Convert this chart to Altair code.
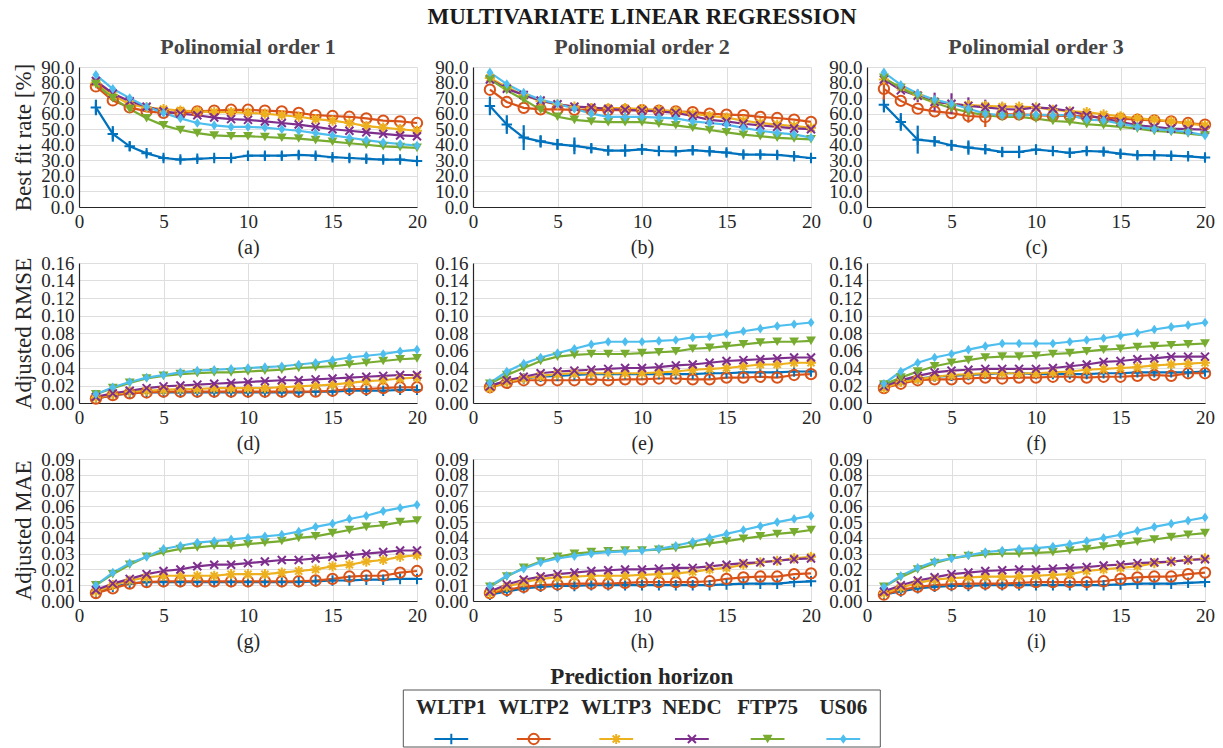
import altair as alt
import pandas as pd

FONT = "Liberation Serif"

SERIES = ["WLTP1", "WLTP2", "WLTP3", "NEDC", "FTP75", "US06"]
COLORS = ["#0072BD", "#D95319", "#EDB120", "#7E2F8E", "#77AC30", "#4DBEEE"]
# marker per driving cycle: plus, circle, asterisk, x, down-triangle, diamond
SHAPES = [
    "M-1,0L1,0M0,-1L0,1",
    "circle",
    "M-1,0L1,0M0,-1L0,1M-0.7,-0.7L0.7,0.7M-0.7,0.7L0.7,-0.7",
    "M-0.8,-0.8L0.8,0.8M-0.8,0.8L0.8,-0.8",
    "triangle-down",
    "M0,-1L0.7,0L0,1L-0.7,0Z",
]
SIZES = [110, 95, 110, 64, 120, 160]
FILLED = ["FTP75", "US06"]

HORIZON = list(range(1, 21))
X_TICKS = [0, 5, 10, 15, 20]

ORDER_TITLES = ["Polinomial order 1", "Polinomial order 2", "Polinomial order 3"]
CAPTIONS = [["(a)", "(b)", "(c)"], ["(d)", "(e)", "(f)"], ["(g)", "(h)", "(i)"]]

FIT_TICKS = [0, 10, 20, 30, 40, 50, 60, 70, 80, 90]
RMSE_TICKS = [0.0, 0.02, 0.04, 0.06, 0.08, 0.10, 0.12, 0.14, 0.16]
MAE_TICKS = [0.0, 0.01, 0.02, 0.03, 0.04, 0.05, 0.06, 0.07, 0.08, 0.09]

# ---- Best fit rate [%] ----
FIT_O1 = {
    "WLTP1": [64, 47, 39, 34.5, 31.5, 30.5, 31, 31.5, 31.5, 33, 33, 33, 33.5, 33, 32, 31.5, 31, 30.5, 30.5, 29.5],
    "WLTP2": [77.5, 68.5, 64, 61.5, 60.5, 60.5, 61.5, 62, 62.5, 62.5, 62, 61.5, 60.5, 59, 58.5, 58, 57, 55.5, 55, 54],
    "WLTP3": [80, 72, 66, 64, 63, 62, 61.5, 61, 61, 60.5, 60, 59, 58, 56.5, 55.5, 54, 52, 51, 50, 49],
    "NEDC": [81, 73, 68, 64.5, 61.5, 60, 59, 57.5, 56.5, 56, 55, 54, 53, 51.5, 50, 49, 48, 47, 46, 45.5],
    "FTP75": [79, 70, 63, 57, 52.5, 49.5, 47.5, 46, 45.5, 45.5, 45, 44.5, 44, 43, 42, 41, 40, 39, 38.5, 38],
    "US06": [85, 76, 70, 64.5, 60.5, 57, 54, 52.5, 51.5, 51.5, 51, 50, 49, 47.5, 46, 44.5, 43, 41.5, 40.5, 39.5],
}
FIT_O1_ERR = {
    "WLTP1": [5, 5, 3, 2, 2, 2, 2, 1.5, 2, 3, 2.5, 2.5, 2.5, 2, 2, 2.5, 2.5, 2, 2, 1.5],
}
FIT_O2 = {
    "WLTP1": [65, 53, 44.6, 42.2, 40.3, 39.3, 37.8, 36.3, 36.3, 37.1, 36, 35.8, 36.5, 35.8, 35, 33.7, 33.7, 33.5, 32.6, 31.5],
    "WLTP2": [75.4, 67.5, 63.7, 62.8, 62.8, 62.5, 62.5, 62.3, 62.3, 62.3, 62, 61.5, 61, 60, 59.4, 59, 57.9, 57.2, 56.2, 54.7],
    "WLTP3": [83, 77, 72, 68, 66, 64.5, 63.5, 63.5, 63.5, 63, 62.5, 61.5, 60, 58.5, 57.5, 55.5, 54, 53, 52, 51],
    "NEDC": [82, 76, 72, 68.5, 66, 64.5, 64, 63, 62.5, 62, 61.5, 60.5, 58.5, 56, 55, 53.5, 52.5, 51.5, 50.5, 50],
    "FTP75": [82, 75, 69, 62.5, 58, 56, 55, 54.5, 54.5, 54.5, 53.5, 52.5, 51, 49.5, 48, 46.5, 45.5, 44.5, 44, 43.5],
    "US06": [86.5, 79, 73.5, 69, 66.4, 63.2, 60, 57.9, 57.9, 57.9, 57.5, 57, 55, 54, 53, 50.9, 49, 47.6, 46.7, 44.6],
}
FIT_O2_ERR = {
    "WLTP1": [6, 6, 8, 4, 3.5, 5.4, 3, 3, 4, 3.5, 3, 3, 3, 2.5, 2.5, 2.5, 2.5, 2.5, 2, 2],
}
FIT_O3 = {
    "WLTP1": [65.8, 54.7, 43.3, 42.2, 39.7, 38.2, 37.1, 35.4, 35.4, 36.9, 36, 34.8, 36, 35.6, 34.3, 33.3, 33.3, 33, 32.6, 31.8],
    "WLTP2": [76, 68.2, 63.2, 61.5, 60.4, 58.5, 57.9, 59.5, 59.5, 59, 58.5, 58.5, 58.3, 57.5, 56.8, 56.2, 55.7, 55, 54, 53],
    "WLTP3": [82, 77, 72, 68, 66, 65.5, 65, 64.5, 64.5, 64, 62.5, 61.5, 61, 59.5, 58.3, 57, 56.2, 55, 53.6, 52.5],
    "NEDC": [82, 75, 71.5, 67.5, 66.4, 65, 64, 63, 62.6, 64, 63.2, 61.7, 59, 56.8, 54.7, 52.5, 51.5, 50.4, 50, 49.7],
    "FTP75": [83, 76.5, 71, 67, 63.5, 61, 59, 57.9, 57.9, 56.8, 55.3, 54.7, 53.2, 52.5, 51.5, 50.4, 48.9, 48.2, 47.2, 46],
    "US06": [86.5, 78.5, 73, 69, 66.4, 63.2, 60, 59, 59, 59.4, 59, 59, 56.2, 55.7, 53.6, 51.5, 50, 49.3, 48.2, 46],
}
FIT_O3_ERR = {
    "WLTP1": [5, 5.7, 9, 3.2, 3.5, 4.6, 3, 3.2, 4, 3.2, 3, 3, 2.5, 2.5, 2.5, 2.5, 2.5, 2, 2, 2],
    "WLTP2": [8, 0, 0, 0, 0, 4.3, 6.5, 0, 0, 0, 4, 0, 0, 0, 0, 0, 0, 0, 0, 0],
    "NEDC": [0, 0, 4, 6, 6.7, 5.5, 5, 4, 3, 0, 0, 0, 0, 0, 0, 0, 0, 0, 0, 0],
}

# ---- Adjusted RMSE ----
RMSE_O1 = {
    "WLTP1": [0.005, 0.009, 0.011, 0.012, 0.012, 0.012, 0.012, 0.012, 0.012, 0.012, 0.012, 0.012, 0.012, 0.013, 0.013, 0.014, 0.014, 0.014, 0.015, 0.015],
    "WLTP2": [0.005, 0.009, 0.011, 0.012, 0.013, 0.013, 0.013, 0.013, 0.013, 0.013, 0.013, 0.013, 0.013, 0.013, 0.014, 0.016, 0.016, 0.017, 0.018, 0.018],
    "WLTP3": [0.006, 0.010, 0.013, 0.014, 0.015, 0.016, 0.016, 0.017, 0.017, 0.017, 0.017, 0.018, 0.019, 0.020, 0.021, 0.023, 0.025, 0.026, 0.028, 0.029],
    "NEDC": [0.007, 0.011, 0.014, 0.017, 0.019, 0.020, 0.021, 0.022, 0.023, 0.024, 0.025, 0.026, 0.026, 0.027, 0.028, 0.029, 0.030, 0.031, 0.032, 0.032],
    "FTP75": [0.010, 0.017, 0.023, 0.028, 0.031, 0.033, 0.034, 0.035, 0.035, 0.036, 0.037, 0.038, 0.040, 0.041, 0.042, 0.044, 0.046, 0.048, 0.050, 0.051],
    "US06": [0.010, 0.018, 0.024, 0.029, 0.032, 0.035, 0.037, 0.038, 0.039, 0.040, 0.041, 0.042, 0.044, 0.046, 0.049, 0.052, 0.054, 0.056, 0.059, 0.061],
}
RMSE_O2 = {
    "WLTP1": [0.020, 0.025, 0.028, 0.030, 0.031, 0.032, 0.033, 0.033, 0.033, 0.033, 0.033, 0.033, 0.033, 0.034, 0.034, 0.035, 0.035, 0.035, 0.036, 0.036],
    "WLTP2": [0.018, 0.023, 0.026, 0.026, 0.026, 0.026, 0.027, 0.026, 0.027, 0.027, 0.028, 0.028, 0.027, 0.027, 0.029, 0.029, 0.030, 0.029, 0.032, 0.033],
    "WLTP3": [0.017, 0.024, 0.028, 0.031, 0.033, 0.034, 0.034, 0.034, 0.034, 0.034, 0.035, 0.036, 0.038, 0.039, 0.040, 0.042, 0.044, 0.044, 0.046, 0.046],
    "NEDC": [0.019, 0.026, 0.030, 0.034, 0.036, 0.037, 0.038, 0.039, 0.040, 0.040, 0.041, 0.043, 0.044, 0.046, 0.048, 0.049, 0.050, 0.051, 0.052, 0.052],
    "FTP75": [0.022, 0.032, 0.040, 0.048, 0.053, 0.055, 0.056, 0.056, 0.056, 0.057, 0.058, 0.059, 0.062, 0.063, 0.065, 0.067, 0.069, 0.070, 0.070, 0.071],
    "US06": [0.023, 0.036, 0.045, 0.052, 0.057, 0.062, 0.067, 0.070, 0.070, 0.070, 0.071, 0.072, 0.075, 0.076, 0.079, 0.082, 0.085, 0.088, 0.090, 0.092],
}
RMSE_O3 = {
    "WLTP1": [0.020, 0.025, 0.028, 0.030, 0.031, 0.032, 0.033, 0.034, 0.034, 0.033, 0.033, 0.033, 0.033, 0.034, 0.034, 0.035, 0.035, 0.035, 0.035, 0.036],
    "WLTP2": [0.017, 0.022, 0.026, 0.027, 0.027, 0.028, 0.029, 0.028, 0.029, 0.029, 0.030, 0.030, 0.029, 0.030, 0.030, 0.031, 0.032, 0.031, 0.034, 0.034],
    "WLTP3": [0.017, 0.024, 0.027, 0.030, 0.032, 0.033, 0.034, 0.034, 0.034, 0.034, 0.035, 0.036, 0.038, 0.039, 0.040, 0.041, 0.043, 0.044, 0.045, 0.046],
    "NEDC": [0.019, 0.026, 0.031, 0.035, 0.037, 0.038, 0.039, 0.039, 0.039, 0.039, 0.040, 0.042, 0.044, 0.047, 0.048, 0.050, 0.051, 0.053, 0.053, 0.053],
    "FTP75": [0.021, 0.029, 0.036, 0.042, 0.046, 0.049, 0.052, 0.053, 0.053, 0.054, 0.056, 0.057, 0.059, 0.061, 0.062, 0.064, 0.065, 0.066, 0.067, 0.068],
    "US06": [0.022, 0.036, 0.046, 0.052, 0.056, 0.061, 0.065, 0.068, 0.068, 0.068, 0.068, 0.070, 0.072, 0.074, 0.077, 0.080, 0.084, 0.087, 0.089, 0.092],
}

# ---- Adjusted MAE ----
MAE_O1 = {
    "WLTP1": [0.005, 0.009, 0.011, 0.012, 0.012, 0.012, 0.012, 0.012, 0.012, 0.012, 0.012, 0.012, 0.012, 0.0125, 0.013, 0.013, 0.0135, 0.0135, 0.014, 0.014],
    "WLTP2": [0.005, 0.008, 0.011, 0.012, 0.0125, 0.0125, 0.0125, 0.0125, 0.0125, 0.0125, 0.0125, 0.0125, 0.0125, 0.013, 0.014, 0.0155, 0.016, 0.016, 0.018, 0.019],
    "WLTP3": [0.006, 0.010, 0.013, 0.015, 0.016, 0.016, 0.016, 0.016, 0.017, 0.017, 0.017, 0.018, 0.019, 0.020, 0.022, 0.023, 0.025, 0.026, 0.028, 0.029],
    "NEDC": [0.007, 0.011, 0.014, 0.017, 0.019, 0.020, 0.022, 0.023, 0.023, 0.024, 0.025, 0.026, 0.026, 0.027, 0.028, 0.029, 0.030, 0.031, 0.032, 0.032],
    "FTP75": [0.010, 0.017, 0.023, 0.028, 0.031, 0.033, 0.034, 0.035, 0.035, 0.036, 0.037, 0.038, 0.040, 0.041, 0.043, 0.045, 0.047, 0.048, 0.050, 0.051],
    "US06": [0.010, 0.018, 0.024, 0.028, 0.033, 0.035, 0.037, 0.038, 0.039, 0.040, 0.041, 0.042, 0.044, 0.047, 0.049, 0.052, 0.054, 0.057, 0.059, 0.061],
}
MAE_O2 = {
    "WLTP1": [0.004, 0.006, 0.008, 0.009, 0.0095, 0.0095, 0.010, 0.010, 0.010, 0.010, 0.010, 0.010, 0.010, 0.010, 0.0105, 0.011, 0.011, 0.011, 0.012, 0.0125],
    "WLTP2": [0.005, 0.007, 0.009, 0.010, 0.0105, 0.011, 0.011, 0.011, 0.0115, 0.012, 0.012, 0.012, 0.012, 0.0125, 0.014, 0.015, 0.0155, 0.0155, 0.017, 0.0175],
    "WLTP3": [0.005, 0.009, 0.012, 0.014, 0.015, 0.0155, 0.016, 0.016, 0.016, 0.0165, 0.017, 0.0175, 0.0185, 0.020, 0.021, 0.023, 0.0245, 0.0255, 0.027, 0.028],
    "NEDC": [0.006, 0.0105, 0.0135, 0.0155, 0.017, 0.018, 0.019, 0.0195, 0.020, 0.020, 0.0205, 0.021, 0.021, 0.022, 0.023, 0.024, 0.0245, 0.0255, 0.0265, 0.027],
    "FTP75": [0.009, 0.0155, 0.021, 0.025, 0.028, 0.030, 0.031, 0.0315, 0.032, 0.032, 0.0325, 0.0335, 0.035, 0.0365, 0.038, 0.0395, 0.041, 0.0425, 0.0435, 0.045],
    "US06": [0.0095, 0.016, 0.0205, 0.0245, 0.027, 0.0285, 0.030, 0.031, 0.0315, 0.032, 0.033, 0.035, 0.0375, 0.040, 0.0425, 0.045, 0.0475, 0.050, 0.052, 0.054],
}
MAE_O3 = {
    "WLTP1": [0.004, 0.006, 0.008, 0.009, 0.0095, 0.0095, 0.010, 0.010, 0.010, 0.010, 0.010, 0.010, 0.010, 0.010, 0.0105, 0.011, 0.011, 0.011, 0.0115, 0.012],
    "WLTP2": [0.004, 0.007, 0.009, 0.010, 0.0105, 0.011, 0.011, 0.011, 0.0115, 0.012, 0.012, 0.012, 0.012, 0.0125, 0.014, 0.015, 0.0155, 0.0155, 0.017, 0.018],
    "WLTP3": [0.005, 0.0085, 0.0115, 0.0135, 0.0145, 0.015, 0.0155, 0.0155, 0.0155, 0.016, 0.0165, 0.017, 0.019, 0.020, 0.021, 0.022, 0.024, 0.025, 0.026, 0.027],
    "NEDC": [0.006, 0.010, 0.013, 0.015, 0.017, 0.018, 0.019, 0.0195, 0.020, 0.020, 0.0205, 0.021, 0.0215, 0.0225, 0.023, 0.024, 0.0245, 0.025, 0.026, 0.0265],
    "FTP75": [0.009, 0.015, 0.020, 0.024, 0.027, 0.0285, 0.0295, 0.030, 0.030, 0.0305, 0.031, 0.032, 0.033, 0.0345, 0.036, 0.0375, 0.039, 0.0405, 0.042, 0.043],
    "US06": [0.009, 0.016, 0.021, 0.025, 0.027, 0.029, 0.031, 0.032, 0.033, 0.0335, 0.0345, 0.036, 0.038, 0.040, 0.042, 0.0445, 0.047, 0.049, 0.051, 0.053],
}

ROWS = [
    {"title": "Best fit rate [%]", "ticks": FIT_TICKS, "fmt": ".1f", "height": 140,
     "data": [FIT_O1, FIT_O2, FIT_O3], "err": [FIT_O1_ERR, FIT_O2_ERR, FIT_O3_ERR]},
    {"title": "Adjusted RMSE", "ticks": RMSE_TICKS, "fmt": ".2f", "height": 140,
     "data": [RMSE_O1, RMSE_O2, RMSE_O3], "err": [{}, {}, {}]},
    {"title": "Adjusted MAE", "ticks": MAE_TICKS, "fmt": ".2f", "height": 142,
     "data": [MAE_O1, MAE_O2, MAE_O3], "err": [{}, {}, {}]},
]

PANEL_W = 338
GAP_PX = 56
GRID_W = 3 * PANEL_W + 2 * GAP_PX
TEXT = "#262626"
LABEL_SIZE = 19

color_scale = alt.Scale(domain=SERIES, range=COLORS)
shape_scale = alt.Scale(domain=SERIES, range=SHAPES)
size_scale = alt.Scale(domain=SERIES, range=SIZES)


def frame(values, errors):
    recs = []
    for s in SERIES:
        errs = errors.get(s, [0] * len(HORIZON))
        for h, v, e in zip(HORIZON, values[s], errs):
            recs.append({"series": s, "h": h, "v": v, "lo": v - e, "hi": v + e, "e": e})
    return pd.DataFrame(recs)


def marks(base, x, y):
    color = alt.Color("series:N", scale=color_scale, legend=None)
    shape = alt.Shape("series:N", scale=shape_scale, legend=None)
    size = alt.Size("series:N", scale=size_scale, legend=None)
    open_pts = base.transform_filter(
        alt.FieldOneOfPredicate(field="series", oneOf=[s for s in SERIES if s not in FILLED])
    ).mark_point(filled=False, strokeWidth=2, opacity=1).encode(x=x, y=y, color=color, shape=shape, size=size)
    solid_pts = base.transform_filter(
        alt.FieldOneOfPredicate(field="series", oneOf=FILLED)
    ).mark_point(filled=True, opacity=1).encode(x=x, y=y, color=color, shape=shape, size=size)
    return open_pts, solid_pts


def panel(r, c):
    spec = ROWS[r]
    df = frame(spec["data"][c], spec["err"][c])
    ticks = spec["ticks"]
    base = alt.Chart(df)
    x = alt.X(
        "h:Q",
        scale=alt.Scale(domain=[0, 20], nice=False, zero=False),
        axis=alt.Axis(values=X_TICKS, tickCount=len(X_TICKS), title=CAPTIONS[r][c],
                      titleFontWeight="normal", titleFontSize=20, titlePadding=6,
                      labelFontSize=LABEL_SIZE, labelPadding=5, labelFlush=False,
                      labelOverlap=False),
    )
    yaxis = dict(values=ticks, tickCount=len(ticks), format=spec["fmt"], labelPadding=5,
                 labelFontSize=LABEL_SIZE, labelOverlap=False)
    if c == 0:
        yaxis.update(title=spec["title"], titleFontWeight="normal", titleFontSize=23, titlePadding=5)
    else:
        yaxis.update(title=None)
    y = alt.Y("v:Q", scale=alt.Scale(domain=[ticks[0], ticks[-1]], nice=False, zero=False),
              axis=alt.Axis(**yaxis))
    color = alt.Color("series:N", scale=color_scale, legend=None)
    lines = base.mark_line(strokeWidth=2.2).encode(x=x, y=y, color=color, order="h:Q")
    bars = base.transform_filter("datum.e > 0").mark_rule(strokeWidth=2.2).encode(
        x=x, y="lo:Q", y2="hi:Q", color=color)
    open_pts, solid_pts = marks(base, x, y)
    props = dict(width=PANEL_W, height=spec["height"])
    if r == 0:
        props["title"] = alt.TitleParams(ORDER_TITLES[c], fontSize=22, fontWeight="bold",
                                         color="#444444", anchor="middle", frame="group", offset=-1)
    return alt.layer(lines, bars, open_pts, solid_pts).properties(**props)


# ---- legend cell (bottom row, first column); entries spaced by name length ----
GAP = 1.1
slots, start = [], 0.0
for s in SERIES:
    slots.append(start + len(s) / 2)
    start += len(s) + GAP
UNIT = (845 - 453) / (slots[-1] - slots[0])      # px per slot unit
LEG_OFFSET = 453 - 80.7                           # first entry, from the grid's left edge
dom_lo = slots[0] - LEG_OFFSET / UNIT
dom_hi = dom_lo + PANEL_W / UNIT
box_lo = slots[0] - 48 / UNIT
box_hi = box_lo + 477 / UNIT

leg_df = pd.DataFrame({"series": SERIES, "slot": slots})
box_df = pd.DataFrame({"lo": [box_lo], "hi": [box_hi], "mid": [(box_lo + box_hi) / 2],
                       "label": ["Prediction horizon"]})
leg_base = alt.Chart(leg_df)
lx = alt.X("slot:Q", scale=alt.Scale(domain=[dom_lo, dom_hi], nice=False, zero=False), axis=None)
ly = alt.value(82)
leg_box = alt.Chart(box_df).mark_rect(fill="white", stroke="#555555", strokeWidth=1).encode(
    x=alt.X("lo:Q", axis=None), x2="hi:Q", y=alt.value(33), y2=alt.value(90))
leg_title = alt.Chart(box_df).mark_text(fontSize=23, fontWeight="bold", color=TEXT,
                                        baseline="middle").encode(
    x=alt.X("mid:Q", axis=None), y=alt.value(20), text="label:N")
leg_text = leg_base.mark_text(fontSize=21, fontWeight="bold", color=TEXT, baseline="middle").encode(
    x=lx, y=alt.value(51), text="series:N")
leg_seg = leg_base.transform_calculate(a="datum.slot - 1.25", b="datum.slot + 1.25").mark_rule(
    strokeWidth=2.2).encode(x=alt.X("a:Q", axis=None), x2="b:Q", y=ly,
                            color=alt.Color("series:N", scale=color_scale, legend=None))
leg_open, leg_solid = marks(leg_base, lx, ly)
legend = alt.layer(leg_box, leg_title, leg_text, leg_seg, leg_open, leg_solid).properties(
    width=PANEL_W, height=90)

cells = [panel(r, c) for r in range(3) for c in range(3)] + [legend]

chart = alt.concat(*cells, columns=3, spacing=GAP_PX, bounds="flush").properties(
    title=alt.TitleParams("MULTIVARIATE LINEAR REGRESSION", fontSize=23, fontWeight="bold",
                          color="#1a1a1a", anchor="start", align="center", dx=GRID_W / 2,
                          frame="group", offset=7),
    padding={"left": 12, "top": 5, "right": 2, "bottom": 0},
).configure(font=FONT).configure_view(stroke="transparent").configure_axis(
    labelFont=FONT, titleFont=FONT, labelFontSize=LABEL_SIZE, labelColor=TEXT, titleColor=TEXT,
    domainColor="#262626", domainWidth=1.2, ticks=False, gridColor="#dedede", gridWidth=1,
).configure_title(font=FONT)

chart.save("out.html", embed_options={"renderer": "svg", "actions": False})
